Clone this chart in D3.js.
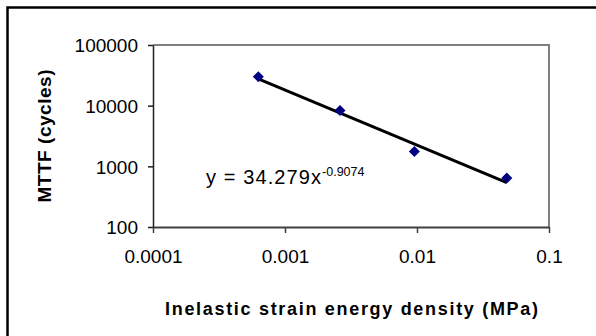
<!DOCTYPE html>
<html lang="en">
<head>
<meta charset="UTF-8">
<title>MTTF vs inelastic strain energy density</title>
<script src="https://d3js.org/d3.v7.min.js"></script>
<style>
    body { margin: 0; background: #fff; }
    text { font-family: Arial, "Liberation Sans", sans-serif; fill: #000; }
</style>
</head>
<body>
<svg width="596" height="336"></svg>
<script>
    // data
    const strainEnergy = [0.000628, 0.00261, 0.00955, 0.0479];   // MPa
    const mttfCycles = [30100, 8300, 1750, 640];
    const xTicks = [0.0001, 0.001, 0.01, 0.1];
    const xTickLabels = ["0.0001", "0.001", "0.01", "0.1"];
    const yTicks = [100, 1000, 10000, 100000];
    const yTickLabels = ["100", "1000", "10000", "100000"];
    // power trendline shown on the chart: y = a * x^b
    const fitA = 34.279;
    const fitB = -0.9074;

    const svg = d3.select("svg");

    // outer chart frame (cut off at right / bottom like the original)
    svg.append("rect")
        .attr("x", 7.5).attr("y", 7.5)
        .attr("width", 620).attr("height", 360)
        .attr("fill", "none").attr("stroke", "#000").attr("stroke-width", 2.5);

    const plotL = 153, plotR = 549, plotT = 45, plotB = 227;

    const x = d3.scaleLog().domain([0.0001, 0.1]).range([plotL, plotR]);
    const y = d3.scaleLog().domain([100, 100000]).range([plotB, plotT]);

    // plot area border: grey on top and right
    svg.append("path")
        .attr("d", `M${plotL},${plotT}H${plotR}V${plotB}`)
        .attr("fill", "none").attr("stroke", "#808080").attr("stroke-width", 2);

    // x axis
    const xAxis = svg.append("g")
        .attr("transform", `translate(0,${plotB})`)
        .call(d3.axisBottom(x).tickValues(xTicks).tickSize(6).tickSizeOuter(0)
            .tickFormat((d, i) => xTickLabels[i]));
    xAxis.select(".domain").attr("stroke", "#404040").attr("stroke-width", 2);
    xAxis.selectAll(".tick line").attr("stroke", "#404040").attr("stroke-width", 1.5);
    xAxis.selectAll(".tick text")
        .attr("y", 36).attr("dy", null)
        .attr("font-size", 19).attr("font-family", "Arial, 'Liberation Sans', sans-serif");

    // y axis
    const yAxis = svg.append("g")
        .attr("transform", `translate(${plotL},0)`)
        .call(d3.axisLeft(y).tickValues(yTicks).tickSize(5).tickSizeOuter(0)
            .tickFormat((d, i) => yTickLabels[i]));
    yAxis.select(".domain").attr("stroke", "#202020").attr("stroke-width", 1.5);
    yAxis.selectAll(".tick line").attr("stroke", "#202020").attr("stroke-width", 1.5);
    yAxis.selectAll(".tick text")
        .attr("x", -15).attr("dy", "0.36em")
        .attr("font-size", 19).attr("font-family", "Arial, 'Liberation Sans', sans-serif");
    svg.selectAll(".tick text").attr("fill", "#000");

    // trendline
    const xEnds = d3.extent(strainEnergy);
    svg.append("path")
        .datum(xEnds)
        .attr("fill", "none").attr("stroke", "#000").attr("stroke-width", 3)
        .attr("d", d3.line().x(d => x(d)).y(d => y(fitA * Math.pow(d, fitB))));

    // markers
    const pts = strainEnergy.map((v, i) => [v, mttfCycles[i]]);
    const r = 5.5;
    svg.append("g").selectAll("path")
        .data(pts)
        .join("path")
        .attr("transform", d => `translate(${x(d[0])},${y(d[1])})`)
        .attr("d", `M0,${-r}L${r},0L0,${r}L${-r},0Z`)
        .attr("fill", "#000080");

    // equation label
    const eq = svg.append("text")
        .attr("x", 206).attr("y", 184)
        .attr("font-size", 20).attr("letter-spacing", 1.1);
    eq.append("tspan").text("y = 34.279x");
    eq.append("tspan").attr("dy", -8).attr("font-size", 12.5)
        .attr("letter-spacing", 0).text("-0.9074");

    // axis titles
    svg.append("text")
        .attr("transform", `translate(51,${(plotT + plotB) / 2}) rotate(-90)`)
        .attr("text-anchor", "middle")
        .attr("font-size", 19).attr("font-weight", "bold")
        .attr("textLength", 133).attr("lengthAdjust", "spacing")
        .text("MTTF (cycles)");

    svg.append("text")
        .attr("x", 165).attr("y", 315)
        .attr("font-size", 18).attr("font-weight", "bold")
        .attr("textLength", 373).attr("lengthAdjust", "spacing")
        .text("Inelastic strain energy density (MPa)");
</script>
</body>
</html>
